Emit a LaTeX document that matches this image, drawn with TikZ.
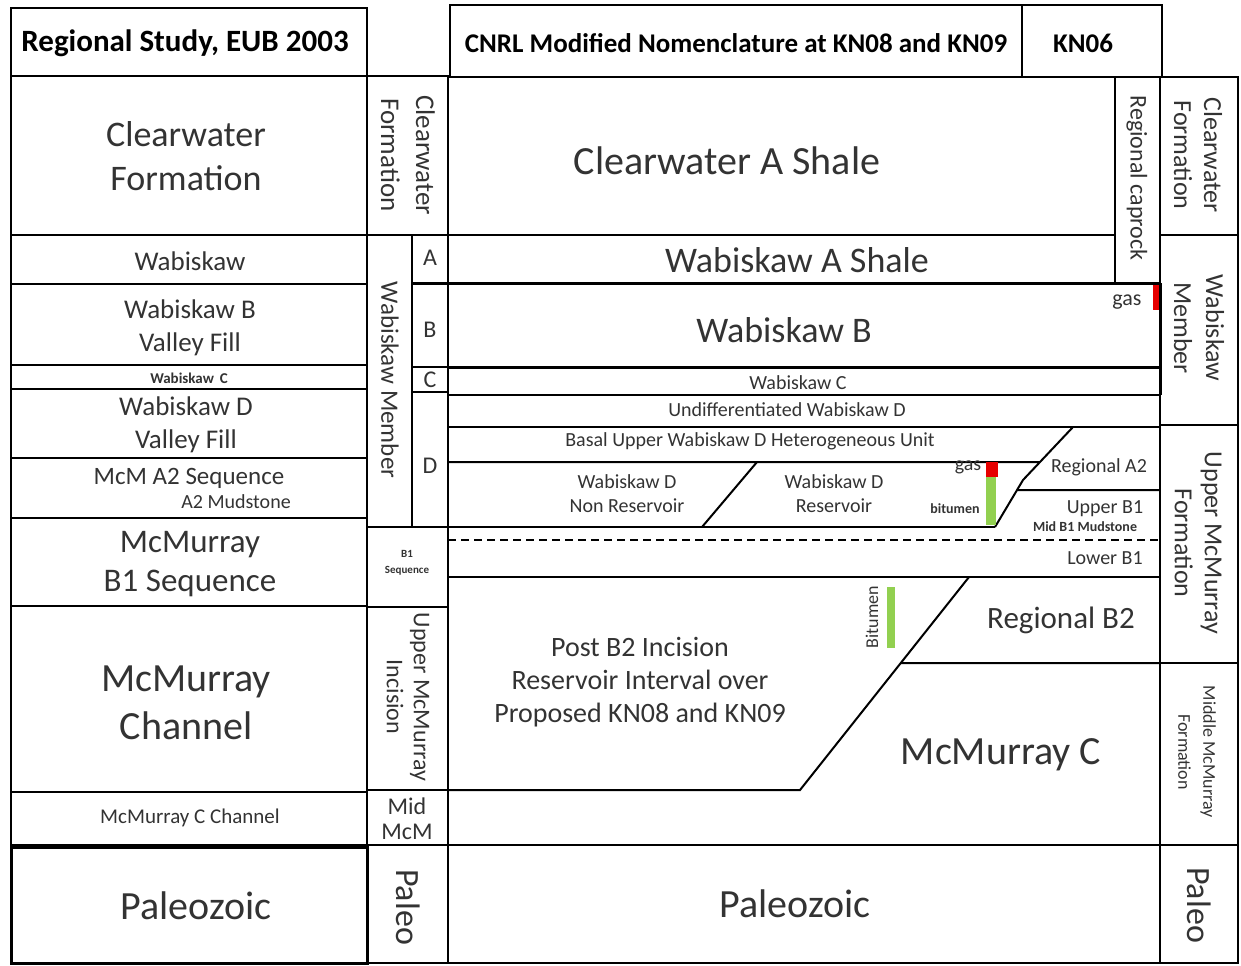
\documentclass[tikz,border=0pt]{standalone}
\usepackage{fontspec}
\setmainfont{Carlito}
\usetikzlibrary{calc}

\newcommand{\fsz}[2]{\fontsize{#1}{#2}\selectfont}

\definecolor{gasred}{RGB}{230,0,0}
\definecolor{bitgreen}{RGB}{146,208,80}

\begin{document}
\begin{tikzpicture}[x=0.5pt, y=-0.5pt, line width=1pt,
  txt/.style={text=black!80, align=center, inner sep=0pt},
  vtxt/.style={txt, rotate=-90},
  head/.style={text=black, font=\bfseries, inner sep=0pt},
  heavy/.style={line width=1.5pt}]

  \useasboundingbox (0,0) rectangle (1241,965);

  % column edges
  \def\xa{11}     % left column
  \def\xb{367}    % member column
  \def\xc{412}    % A/B/C/D split
  \def\xd{448}    % nomenclature column
  \def\xe{1115}   % caprock
  \def\xf{1160}
  \def\xg{1238}   % right column

  % ---------------- Regional study (left column)
  \draw[line width=1.2pt] (\xa,8) rectangle (\xb,76);
  \draw (\xa,76) rectangle (\xb,235);
  \draw (\xa,235) rectangle (\xb,284);
  \draw (\xa,284) rectangle (\xb,365);
  \draw (\xa,365) rectangle (\xb,389);
  \draw (\xa,389) rectangle (\xb,458);
  \draw (\xa,458) rectangle (\xb,518);
  \draw (\xa,518) rectangle (\xb,606);
  \draw (\xa,606) rectangle (\xb,792);
  \draw (\xa,792) rectangle (\xb,845);
  \draw[heavy] (\xa,847) rectangle (\xb,963);

  \node[head, font=\bfseries\fsz{15.5}{18}] (eub) at (185,43) {Regional Study, EUB 2003};
  \node[txt, font=\fsz{18}{22}] (cwl) at (186,156) {Clearwater\\Formation};
  \node[txt, font=\fsz{13.5}{16}] (wabl) at (190,261) {Wabiskaw};
  \node[txt, font=\fsz{13.5}{16.5}] (wabbl) at (190,328) {Wabiskaw B\\Valley Fill};
  \node[txt, font=\bfseries\fsz{7.5}{9}] (wabcl) at (189,378) {Wabiskaw\, C};
  \node[txt, font=\fsz{13.5}{16.5}] (wabdl) at (186,425) {Wabiskaw D\\Valley Fill};
  \node[txt, font=\fsz{12.5}{15}] (a2seq) at (189,478) {McM A2 Sequence};
  \node[txt, font=\fsz{10}{12}] (a2mud) at (236,502) {A2 Mudstone};
  \node[txt, font=\fsz{16.5}{19.5}] (b1seq) at (190,564) {McMurray\\B1 Sequence};
  \node[txt, font=\fsz{20}{24}] (mcmch) at (186,703) {McMurray\\Channel};
  \node[txt, font=\fsz{10.5}{12}] (cchan) at (190,818) {McMurray C Channel};
  \node[txt, font=\fsz{20}{24}] (paleol) at (196,906) {Paleozoic};

  % ---------------- Member column
  \draw (\xb,76) rectangle (\xd,235);
  \draw (\xb,235) rectangle (\xc,527);
  \draw (\xc,235) rectangle (\xd,283);
  \draw (\xc,283) rectangle (\xd,367);
  \draw[heavy] (\xc,283) -- (\xd,283);
  \draw (\xc,367) rectangle (\xd,392);
  \draw (\xc,392) rectangle (\xd,527);
  \draw (\xb,527) rectangle (\xd,607);
  \draw (\xb,607) rectangle (\xd,790);
  \draw (\xb,790) rectangle (\xd,845);
  \draw (\xb,845) rectangle (\xd,963);

  \node[vtxt, font=\fsz{13.5}{17.5}] (cwm) at (408,155) {Clearwater\\Formation};
  \node[vtxt, font=\fsz{12.5}{15}] (wabm) at (390,380) {Wabiskaw Member};
  \node[txt, font=\fsz{12}{14}] (ua) at (430,258) {A};
  \node[txt, font=\fsz{12}{14}] (ub) at (430,330) {B};
  \node[txt, font=\fsz{12}{14}] (uc) at (430,380) {C};
  \node[txt, font=\fsz{12}{14}] (ud) at (430,466) {D};
  \node[txt, font=\bfseries\fsz{5.5}{8}] (b1m) at (407,563) {B1\\Sequence};
  \node[vtxt, font=\fsz{12}{13.5}] (incis) at (408,697) {Upper McMurray\\Incision};
  \node[txt, font=\fsz{12}{12.5}] (midm) at (407,819) {Mid\\McM};
  \node[vtxt, font=\fsz{17}{20}] (paleom) at (408,907) {Paleo};

  % ---------------- Nomenclature at KN08 / KN09 and KN06
  \draw (450,5) rectangle (1022,77);
  \draw (1022,5) rectangle (1162,77);
  \node[head, font=\bfseries\fsz{13.5}{16}] (cnrl) at (736,43) {CNRL Modified Nomenclature at KN08 and KN09};
  \node[head, font=\bfseries\fsz{13.5}{16}] (kn06) at (1083,43) {KN06};

  % outline and caprock
  \draw (\xd,77) -- (\xd,963) -- (\xf,963) -- (\xf,77) -- cycle;
  \draw (\xe,77) -- (\xe,283);
  \draw[heavy] (\xf,283) -- (\xf,395);

  % flat tops
  \draw (\xd,235) -- (\xe,235);
  \draw[heavy] (\xd,283) -- (\xf,283);
  \draw[heavy] (\xd,367) -- (\xf,367);
  \draw (\xd,395) -- (\xf,395);
  \draw (\xd,427) -- (\xf,427);
  \draw[dash pattern=on 4pt off 2.5pt] (\xd,540) -- (\xf,540);
  \draw (\xd,577) -- (\xf,577);
  \draw (\xd,845) -- (\xf,845);

  % Wabiskaw D and B1 cut-off
  \coordinate (d1) at (1073,427);
  \coordinate (d2) at (1023,480);
  \coordinate (d3) at (995,527);
  \draw (d1) -- (d2) -- (d3);
  \coordinate (h1) at (intersection of d1--d2 and {\xd,462}--{\xf,462});
  \coordinate (h2) at (intersection of d2--d3 and {\xd,490}--{\xf,490});
  \draw (\xd,462) -- (h1);
  \draw (h2) -- (\xf,490);
  \draw (\xd,527) -- (d3);
  \draw (757,462) -- (702,527);

  % post B2 incision
  \coordinate (e1) at (969,577);
  \coordinate (e2) at (800,790);
  \draw (e1) -- (e2) -- (\xd,790);
  \coordinate (h3) at (intersection of e1--e2 and {\xd,663}--{\xf,663});
  \draw (h3) -- (\xf,663);

  % gas and bitumen shows
  \fill[gasred] (1153,285) rectangle (1160,310);
  \fill[gasred] (986,462) rectangle (998,477);
  \fill[bitgreen] (986,477) rectangle (996,525);
  \fill[bitgreen] (887,587) rectangle (895,648);

  \node[txt, font=\fsz{20}{24}] (cwa) at (727,161) {Clearwater A Shale};
  \node[vtxt, font=\fsz{12}{14}] (capr) at (1137,178) {Regional caprock};
  \node[txt, font=\fsz{18}{21}] (waba) at (797,260) {Wabiskaw A Shale};
  \node[txt, font=\fsz{18}{21}] (wabb) at (784,330) {Wabiskaw B};
  \node[txt, font=\fsz{11}{13}] (gas1) at (1127,302) {gas};
  \node[txt, font=\fsz{10}{12}] (wabc) at (798,383) {Wabiskaw C};
  \node[txt, font=\fsz{10}{12}] (undif) at (787,410) {Undifferentiated Wabiskaw D};
  \node[txt, font=\fsz{10}{12}] (basal) at (750,441) {Basal Upper Wabiskaw D Heterogeneous Unit};
  \node[txt, font=\fsz{10}{12}] (nonres) at (627,494) {Wabiskaw D\\Non Reservoir};
  \node[txt, font=\fsz{10}{12}] (resv) at (834,494) {Wabiskaw D\\Reservoir};
  \node[txt, font=\fsz{10}{12}] (gas2) at (968,467) {gas};
  \node[txt, font=\bfseries\fsz{7}{9}] (bit1) at (955,509) {bitumen};
  \node[txt, font=\fsz{10}{12}] (rega2) at (1099,467) {Regional A2};
  \node[txt, font=\fsz{10}{12}] (upb1) at (1105,509) {Upper B1};
  \node[txt, font=\bfseries\fsz{7}{9}] (midb1) at (1085,527) {Mid B1 Mudstone};
  \node[txt, font=\fsz{10}{12}] (lowb1) at (1105,558) {Lower B1};
  \node[txt, font=\fsz{9}{11}, rotate=90] (bit2) at (872,617) {Bitumen};
  \node[txt, font=\fsz{15.5}{18}] (regb2) at (1061,620) {Regional B2};
  \node[txt, font=\fsz{14}{16.5}] (postb2) at (640,682) {Post B2 Incision\\Reservoir Interval over\\Proposed KN08 and KN09};
  \node[txt, font=\fsz{20}{24}] (mcmc) at (1001,755) {McMurray C};
  \node[txt, font=\fsz{20}{24}] (paleoc) at (795,904) {Paleozoic};

  % ---------------- Right column (KN06)
  \draw (\xf,77) rectangle (\xg,235);
  \draw (\xf,235) rectangle (\xg,425);
  \draw (\xf,425) rectangle (\xg,663);
  \draw (\xf,663) rectangle (\xg,845);
  \draw (\xf,845) rectangle (\xg,963);

  \node[vtxt, font=\fsz{13}{15}] (cwr) at (1198,155) {Clearwater\\Formation};
  \node[vtxt, font=\fsz{13}{16}] (wabr) at (1199,328) {Wabiskaw\\Member};
  \node[vtxt, font=\fsz{13}{15}] (umcm) at (1198,543) {Upper McMurray\\Formation};
  \node[vtxt, font=\fsz{9}{12.5}] (mmcm) at (1197,752) {Middle McMurray\\Formation};
  \node[vtxt, font=\fsz{17}{20}] (paleor) at (1199,905) {Paleo};

\end{tikzpicture}
\end{document}
